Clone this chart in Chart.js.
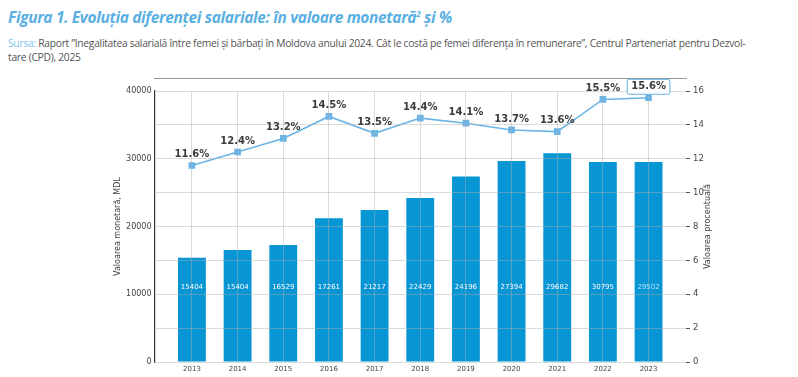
<!DOCTYPE html>
<html>
<head>
<meta charset="utf-8">
<script src="https://cdn.jsdelivr.net/npm/chart.js@4"></script>
<style>
  body { margin: 0; background: #fff; width: 798px; height: 377px; overflow: hidden; position: relative; }
  #title { position: absolute; left: 8px; top: 6px; font-family: "Open Sans"; font-weight: 700; font-style: italic;
    font-size: 15.5px; letter-spacing: -0.35px; color: #5aafe3; white-space: nowrap; }
  #title sup { font-size: 8px; vertical-align: 6px; line-height: 0; }
  #source { position: absolute; left: 8px; top: 36px; font-family: "Open Sans"; font-size: 10.3px; letter-spacing: -0.28px;
    line-height: 14px; color: #555; white-space: nowrap; }
  #source span { color: #7dc2ea; }
  #wrap { position: absolute; left: 0; top: 78px; width: 798px; height: 299px; }
</style>
</head>
<body>
<div id="title">Figura 1. Evoluția diferenței salariale: în valoare monetară<sup>2</sup> și %</div>
<div id="source"><span>Sursa:</span> Raport ”Inegalitatea salarială între femei și bărbați în Moldova anului 2024. Cât le costă pe femei diferența în remunerare”, Centrul Parteneriat pentru Dezvol-<br>tare (CPD), 2025</div>
<div id="wrap"><canvas id="chart"></canvas></div>
<script>
const years = ['2013', '2014', '2015', '2016', '2017', '2018', '2019', '2020', '2021', '2022', '2023'];
// bar heights as drawn
const gapMdl = [15404, 16529, 17261, 21217, 22429, 24196, 27394, 29682, 30795, 29502, 29502];
// labels as printed inside the bars
const gapMdlLabels = ['15404', '15404', '16529', '17261', '21217', '22429', '24196', '27394', '29682', '30795', '29502'];
const gapPct = [11.6, 12.4, 13.2, 14.5, 13.5, 14.4, 14.1, 13.7, 13.6, 15.5, 15.6];
const leftTitle = 'Valoarea monetară, MDL';
const rightTitle = 'Valoarea procentuală';

const labelsPlugin = {
  id: 'labels',
  afterDraw: function (chart) {
    const ctx = chart.ctx;
    const y = chart.scales.y;
    const barMeta = chart.getDatasetMeta(1);
    const lineMeta = chart.getDatasetMeta(0);
    ctx.save();
    // bar labels
    ctx.font = '7px "DejaVu Sans"';
    ctx.textAlign = 'center';
    ctx.textBaseline = 'middle';
    barMeta.data.forEach(function (bar, i) {
      ctx.fillStyle = i === barMeta.data.length - 1 ? '#a6e6ff' : '#ffffff';
      ctx.fillText(gapMdlLabels[i], bar.x, y.getPixelForValue(11000));
    });
    // percentage labels
    ctx.font = 'bold 10px "DejaVu Sans"';
    lineMeta.data.forEach(function (pt, i) {
      const txt = gapPct[i].toFixed(1) + '%';
      const ly = pt.y - 11;
      if (i === lineMeta.data.length - 1) {
        const w = ctx.measureText(txt).width + 8;
        ctx.beginPath();
        ctx.roundRect(pt.x - w / 2, ly - 7.5, w, 15, 2);
        ctx.fillStyle = '#fff';
        ctx.fill();
        ctx.strokeStyle = '#62b4e4';
        ctx.lineWidth = 1;
        ctx.stroke();
      }
      ctx.fillStyle = '#3b3b3b';
      ctx.fillText(txt, pt.x, ly);
    });
    // right axis title, reading upward
    const area = chart.chartArea;
    ctx.translate(708, (area.top + area.bottom) / 2);
    ctx.rotate(-Math.PI / 2);
    ctx.font = '8px "DejaVu Sans"';
    ctx.fillStyle = '#444';
    ctx.fillText(rightTitle, 0, 0);
    ctx.restore();
  }
};

new Chart(document.getElementById('chart'), {
  data: {
    labels: years,
    datasets: [{
      type: 'line',
      label: '%',
      data: gapPct,
      yAxisID: 'y1',
      borderColor: '#6ab5e6',
      backgroundColor: '#6ab5e6',
      borderWidth: 1.6,
      pointStyle: 'rect',
      pointRadius: 3.6,
      order: 0
    }, {
      type: 'bar',
      label: 'MDL',
      data: gapMdl,
      yAxisID: 'y',
      backgroundColor: '#0795d4',
      categoryPercentage: 1,
      barPercentage: 0.61,
      order: 1
    }]
  },
  options: {
    responsive: true,
    maintainAspectRatio: false,
    animation: false,
    layout: { padding: { left: 109, right: 82, top: 13, bottom: 0 } },
    plugins: { legend: { display: false }, tooltip: { enabled: false } },
    scales: {
      x: {
        offset: true,
        afterBuildTicks: function (s) { s._startValue -= 0.32; s._valueRange += 0.64; },
        afterFit: function (s) { s.height = 15; },
        grid: { offset: false, color: 'rgba(175,175,175,0.45)', drawTicks: false, z: 1 },
        border: { display: true, color: '#333', width: 1.2 },
        ticks: { font: { family: 'DejaVu Sans', size: 7 }, color: '#444', padding: 3 }
      },
      y: {
        position: 'left',
        min: 0,
        max: 40000,
        afterFit: function (s) { s.width = 45.5; },
        ticks: {
          stepSize: 10000,
          font: { family: 'DejaVu Sans', size: 8 },
          color: '#444',
          padding: 3,
          callback: function (v) { return String(v); }
        },
        grid: { drawOnChartArea: false, drawTicks: false },
        border: { display: true, color: '#333', width: 1.2 },
        title: { display: true, text: leftTitle, font: { family: 'DejaVu Sans', size: 8 }, color: '#444' }
      },
      y1: {
        position: 'right',
        min: 0,
        max: 16,
        afterFit: function (s) { s.width = 30; },
        ticks: { stepSize: 2, font: { family: 'DejaVu Sans', size: 8.5 }, color: '#444', padding: 3 },
        grid: { color: 'rgba(175,175,175,0.45)', tickColor: '#555', tickLength: 4, z: 1 },
        border: { display: false }
      }
    }
  },
  plugins: [labelsPlugin]
});
</script>
</body>
</html>
